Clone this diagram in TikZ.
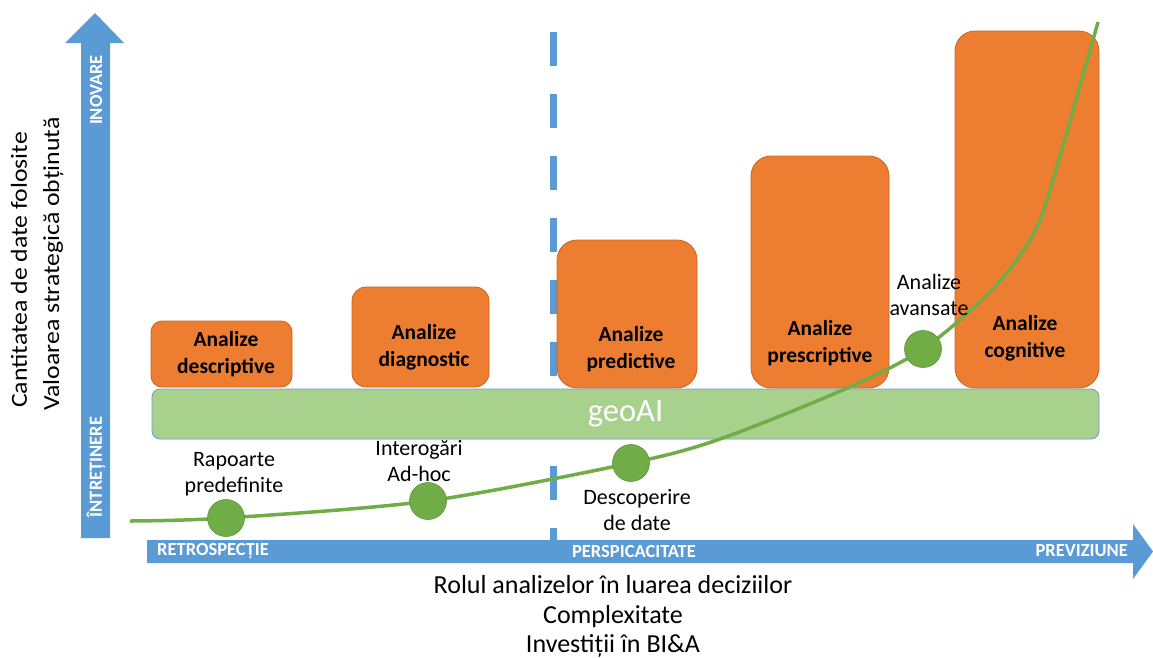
\documentclass[tikz,border=0pt]{standalone}
\usepackage{fontspec}
\setmainfont{Carlito}
\newfontfamily\widefont[FakeStretch=1.12]{Carlito}
\usetikzlibrary{positioning}
\definecolor{axisblue}{HTML}{5B9BD5}
\definecolor{boxorange}{HTML}{ED7D31}
\definecolor{boxedge}{HTML}{C9651F}
\definecolor{barfill}{HTML}{A9D18E}
\definecolor{baredge}{HTML}{6E9BC4}
\definecolor{curvegreen}{HTML}{70AD47}
\tikzset{
  abox/.style={draw=boxedge, fill=boxorange, rounded corners=14pt, line width=0.8pt, inner sep=0pt},
  abtext/.style={font=\fontsize{21.5}{27}\selectfont\bfseries, align=center},
  dot/.style={circle, fill=curvegreen, draw=curvegreen!85!black, line width=0.6pt, minimum size=37pt, inner sep=0pt},
  dotlabel/.style={font=\fontsize{22}{26}\selectfont, align=center},
  axlabel/.style={font=\fontsize{18.5}{20}\selectfont\bfseries, text=white, inner sep=0pt},
  axtitle/.style={font=\fontsize{26}{30}\selectfont, inner sep=0pt, anchor=base},
  ytitle/.style={font=\widefont\fontsize{23}{30}\selectfont, inner sep=0pt, anchor=base, rotate=90},
}
\begin{document}
\begin{tikzpicture}[x=1pt, y=-1pt]
    \useasboundingbox (0,0) rectangle (1153,657);
    % axes
    \fill[axisblue] (81,538) -- (81,43) -- (65,43) -- (95,13) -- (124,43) -- (110,43) -- (110,538) -- cycle;
    \fill[axisblue] (147,540) -- (1133,540) -- (1133,524) -- (1153,551.5) -- (1133,579) -- (1133,563) -- (147,563) -- cycle;
    \node[axlabel, rotate=90] (inov) at (96,90) {INOVARE};
    \node[axlabel, rotate=90] (intr) at (96,467) {ÎNTREȚINERE};
    \node[axlabel, anchor=west] (retro) at (157,551) {RETROSPECȚIE};
    \node[axlabel] (persp) at (634,551) {PERSPICACITATE};
    \node[axlabel, anchor=east] (previz) at (1128,551) {PREVIZIUNE};
    \node[ytitle] (ytitle1) at (27,270) {Cantitatea de date folosite};
    \node[ytitle] (ytitle2) at (59,264) {Valoarea strategică obținută};
    \node[axtitle] (xtitle1) at (613,593) {Rolul analizelor în luarea deciziilor};
    \node[axtitle] (xtitle2) at (613,623) {Complexitate};
    \node[axtitle] (xtitle3) at (613,652) {Investiții în BI\&A};
    % separator
    \draw[axisblue, line width=7pt, dash pattern=on 34pt off 28pt] (553,32) -- (553,540);
    % analyses
    \node[abox, minimum width=141pt, minimum height=66pt, rounded corners=11pt] (desc) at (221.5,354) {};
    \node[abox, minimum width=137pt, minimum height=100pt] (diag) at (420.5,337) {};
    \node[abox, minimum width=140pt, minimum height=148pt, rounded corners=20pt] (pred) at (627,314) {};
    \node[abox, minimum width=138pt, minimum height=232pt, rounded corners=20pt] (presc) at (820,272) {};
    \node[abox, minimum width=144pt, minimum height=357pt, rounded corners=20pt] (cogn) at (1027,209.5) {};
    \node[abtext] (desct) at (226,354) {Analize\\descriptive};
    \node[abtext] (diagt) at (424,347) {Analize\\diagnostic};
    \node[abtext] (predt) at (631,349) {Analize\\predictive};
    \node[abtext] (presct) at (820,343) {Analize\\prescriptive};
    \node[abtext] (cognt) at (1025,338) {Analize\\cognitive};
    \node[draw=baredge, fill=barfill, line width=0.8pt, rounded corners=8pt, minimum width=947pt, minimum height=50pt,
          font=\fontsize{32.5}{32}\selectfont, text=white] (geo) at (625.5,414) {geoAI};
    % maturity curve
    \coordinate (p1) at (226,518);
    \coordinate (p2) at (428,501);
    \coordinate (p3) at (631,463);
    \coordinate (p4) at (923,349);
    \draw[curvegreen, line width=3.5pt] plot[smooth, tension=0.5] coordinates {
      (130,521) (p1) (p2) (p3) (720,439) (845,389) (p4) (990,292) (1030,240) (1050,190) (1098,22)
    };
    \node[dot] (rap) at (p1) {};
    \node[dot] (inter) at (p2) {};
    \node[dot] (desco) at (p3) {};
    \node[dot] (avans) at (p4) {};
    \node[dotlabel] (rapt) at (234,474) {Rapoarte\\predefinite};
    \node[dotlabel] (intert) at (419,461) {Interogări\\Ad-hoc};
    \node[dotlabel] (descot) at (637,510) {Descoperire\\de date};
    \node[dotlabel] (avanst) at (929,295) {Analize\\avansate};
\end{tikzpicture}
\end{document}
